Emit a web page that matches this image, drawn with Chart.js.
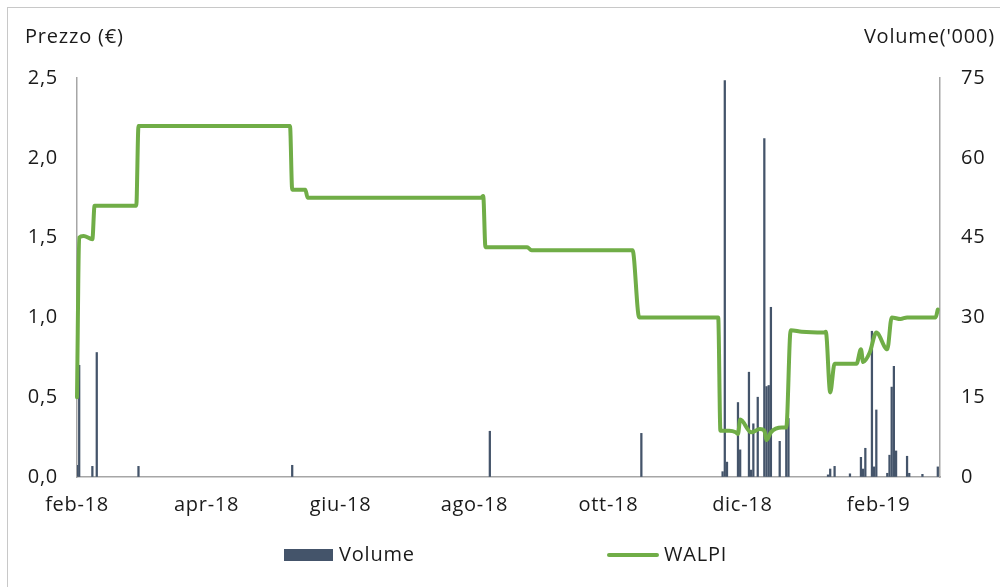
<!DOCTYPE html>
<html>
<head>
<meta charset="utf-8">
<script src="https://cdn.jsdelivr.net/npm/chart.js@4.4.1/dist/chart.umd.min.js"></script>
<style>
  html, body { margin: 0; background: #fff; }
  #wrap { width: 1000px; height: 587px; position: relative; }
</style>
</head>
<body>
<div id="wrap"><canvas id="chart"></canvas></div>
<script>
// days counted from 1 feb 2018
const tickDays = [0, 59, 120, 181, 242, 303, 365];
const tickLabels = ["feb-18", "apr-18", "giu-18", "ago-18", "ott-18", "dic-18", "feb-19"];

// WALPI price (€)
const priceDays = [0, 1, 3, 7, 8, 27, 28, 97, 98, 104, 105, 184, 185, 186, 205, 207, 253, 256,
  292, 293, 297, 300, 301, 302, 307, 311, 313, 314, 316, 321, 323, 325, 330, 340, 341, 343,
  345, 355, 357, 358, 361, 364, 369, 371, 375, 378, 391, 392];
const prices = [0.50, 1.50, 1.51, 1.49, 1.70, 1.70, 2.20, 2.20, 1.80, 1.80, 1.75, 1.75, 1.76, 1.44, 1.44, 1.42, 1.42, 1.00,
  1.00, 0.29, 0.29, 0.28, 0.27, 0.36, 0.28, 0.30, 0.29, 0.23, 0.28, 0.31, 0.31, 0.92, 0.91, 0.905, 0.91, 0.53,
  0.71, 0.71, 0.80, 0.72, 0.78, 0.905, 0.80, 1.00, 0.99, 1.00, 1.00, 1.05];

// volume ('000)
const volDays = [0, 1, 7, 9, 28, 98, 188, 257, 294, 295, 296, 301, 302, 306, 307, 308, 310,
  313, 314, 315, 316, 320, 323, 324, 342, 343, 345, 352, 357, 358, 359, 362, 363, 364,
  369, 370, 371, 372, 373, 378, 379, 385, 392];
const volumes = [2.2, 21, 2, 23.4, 2, 2.2, 8.6, 8.2, 1, 74.5, 2.8, 14, 5.1, 19.7, 1.3, 10, 15,
  63.6, 17, 17.2, 31.9, 6.7, 10.7, 11, 0.4, 1.5, 2, 0.6, 3.7, 1.5, 5.4, 27.4, 1.9, 12.6,
  0.7, 4.1, 16.9, 20.8, 4.9, 3.9, 0.7, 0.5, 1.9];

const FONT = "'Open Sans', sans-serif";
const TEXT = "#1a1a1a";
const AXIS = "#a6a6a6";
const GREEN = "#70ad47";
const SLATE = "#44546a";

Chart.defaults.font.family = FONT;
Chart.defaults.font.size = 20;
Chart.defaults.color = TEXT;

// titles, legend and the outer frame
const extrasPlugin = {
  id: "extras",
  beforeDraw(chart) {
    const ctx = chart.ctx;
    ctx.save();
    ctx.strokeStyle = "#c8c8c8";
    ctx.lineWidth = 1;
    ctx.strokeRect(7.5, 7.5, 1100, 1100);
    ctx.restore();
    // wider letters, closer to the original face (kept for the tick labels too)
    ctx.letterSpacing = "0.7px";
  },
  afterDraw(chart) {
    const ctx = chart.ctx;
    ctx.save();
    ctx.font = "20px " + FONT;
    ctx.letterSpacing = "0.8px";
    ctx.fillStyle = TEXT;
    ctx.textBaseline = "middle";
    ctx.textAlign = "left";
    ctx.fillText("Prezzo (€)", 25, 37);
    ctx.textAlign = "right";
    ctx.fillText("Volume('000)", 995, 37);

    // legend
    ctx.textAlign = "left";
    ctx.fillStyle = SLATE;
    ctx.fillRect(284, 549, 49, 12);
    ctx.fillStyle = TEXT;
    ctx.fillText("Volume", 339, 555);
    ctx.strokeStyle = GREEN;
    ctx.lineWidth = 4;
    ctx.lineCap = "round";
    ctx.beginPath();
    ctx.moveTo(609, 555);
    ctx.lineTo(657, 555);
    ctx.stroke();
    ctx.fillText("WALPI", 664, 555);
    ctx.restore();
  }
};

const ctx = document.getElementById("chart");
new Chart(ctx, {
  type: "bar",
  data: {
    datasets: [
      {
        type: "line",
        label: "WALPI",
        data: priceDays.map((d, i) => ({ x: d, y: prices[i] })),
        yAxisID: "y",
        borderColor: GREEN,
        borderWidth: 4,
        borderCapStyle: "round",
        borderJoinStyle: "round",
        pointRadius: 0,
        cubicInterpolationMode: "monotone",
        clip: 6,
        order: 0,
      },
      {
        label: "Volume",
        data: volDays.map((d, i) => ({ x: d, y: volumes[i] })),
        yAxisID: "y2",
        backgroundColor: SLATE,
        barThickness: 1.6,
        order: 1,
      },
    ],
  },
  options: {
    responsive: true,
    maintainAspectRatio: false,
    animation: false,
    layout: { padding: { top: 78, left: 0, right: 0, bottom: 0 } },
    plugins: { legend: { display: false }, tooltip: { enabled: false } },
    scales: {
      x: {
        type: "linear",
        min: 0,
        max: 393,
        offset: false,
        grid: { display: true, drawOnChartArea: false, drawTicks: false },
        border: { color: AXIS, width: 1.5 },
        afterBuildTicks: (scale) => {
          scale.ticks = tickDays.map((v) => ({ value: v }));
        },
        afterFit: (scale) => {
          scale.height = 110;
        },
        ticks: {
          autoSkip: false,
          maxRotation: 0,
          padding: 16,
          callback: (value) => tickLabels[tickDays.indexOf(value)],
        },
      },
      y: {
        position: "left",
        min: 0,
        max: 2.5,
        grid: { display: true, drawOnChartArea: false, drawTicks: false },
        border: { color: AXIS, width: 1.5 },
        afterFit: (scale) => {
          scale.width = 77;
        },
        ticks: {
          stepSize: 0.5,
          padding: 19,
          callback: (v) => v.toFixed(1).replace(".", ","),
        },
      },
      y2: {
        position: "right",
        min: 0,
        max: 75,
        grid: { display: true, drawOnChartArea: false, drawTicks: false },
        border: { color: AXIS, width: 1.5 },
        afterFit: (scale) => {
          scale.width = 60;
        },
        ticks: { stepSize: 15, padding: 21 },
      },
    },
  },
  plugins: [extrasPlugin],
});
</script>
</body>
</html>
